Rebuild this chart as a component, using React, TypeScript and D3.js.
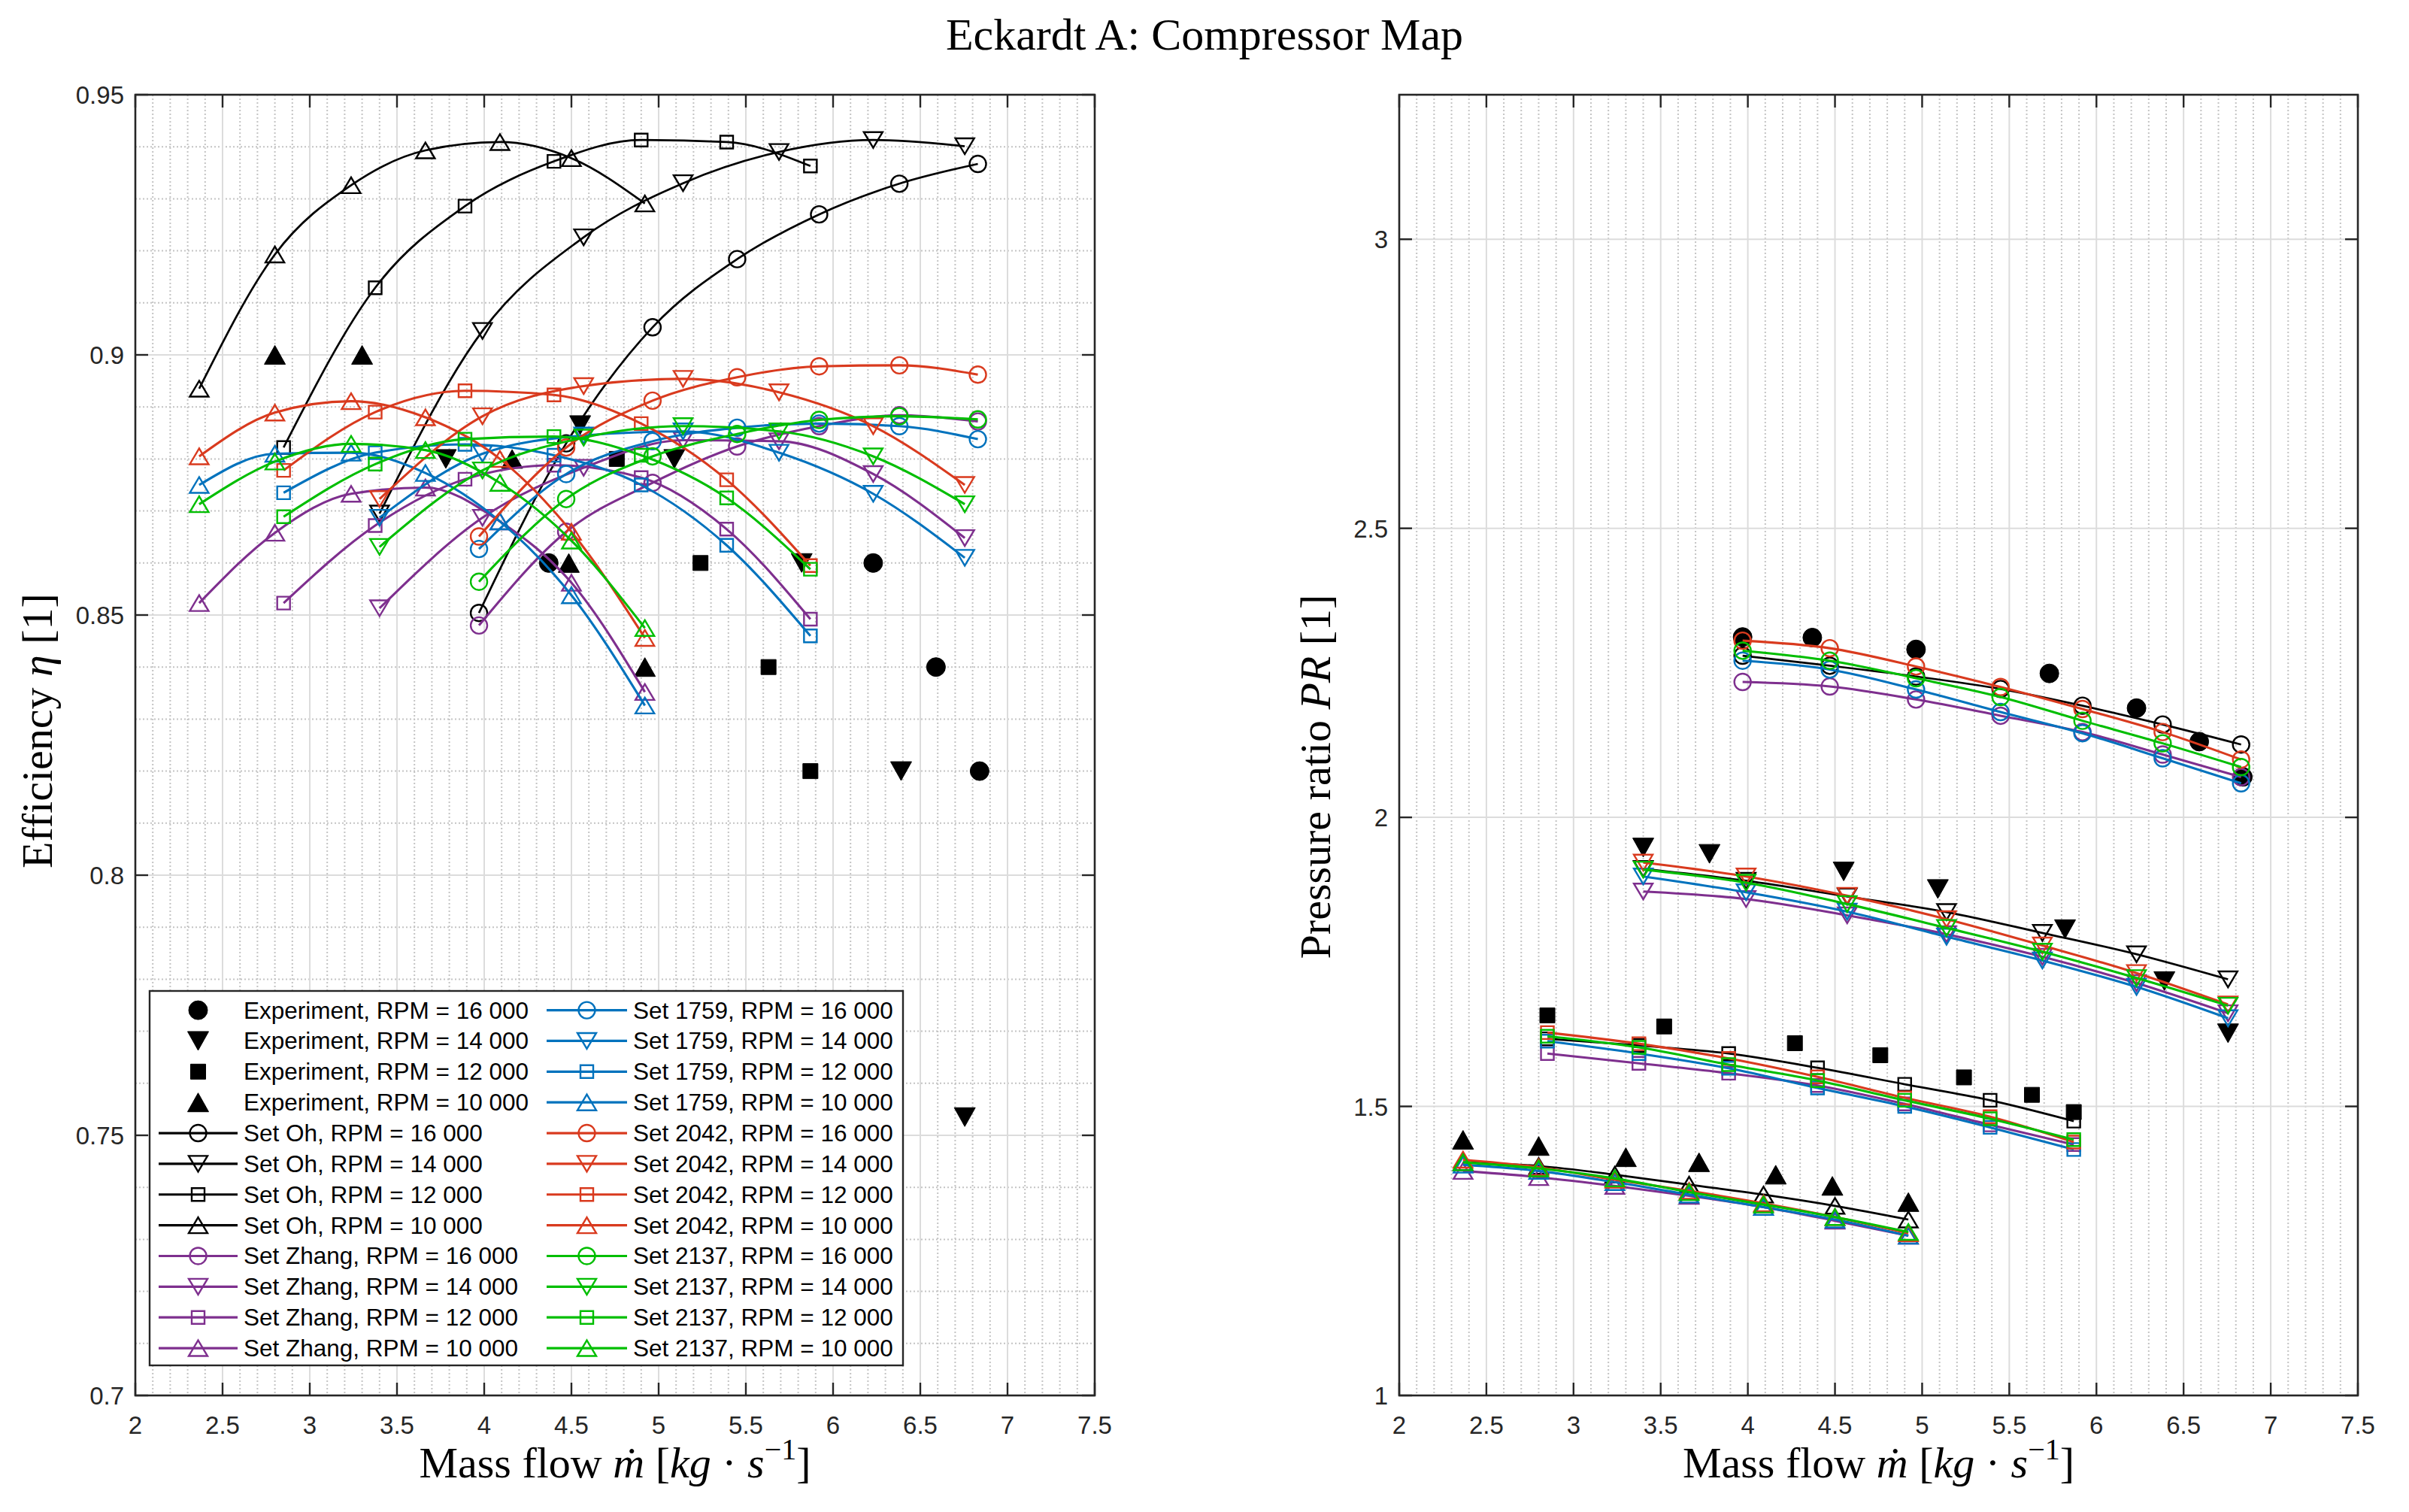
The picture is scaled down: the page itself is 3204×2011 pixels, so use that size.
import { useRef, useEffect } from "react";
import * as d3 from "d3";

const FIG_W = 3204;
const FIG_H = 2011;

// Mass flow of each operating point per speed line
const mdot16 = [3.97, 4.47, 4.965, 5.45, 5.92, 6.38, 6.83];
const mdot14 = [3.4, 3.99, 4.57, 5.14, 5.69, 6.23, 6.755];
const mdot12 = [2.85, 3.375, 3.89, 4.4, 4.9, 5.39, 5.87];
const mdot10 = [2.366, 2.8, 3.237, 3.663, 4.09, 4.5, 4.921];

// Experiment
const expMdot16 = [3.97, 4.37, 4.965, 5.73, 6.23, 6.59, 6.84];
const expMdot14 = [3.4, 3.78, 4.55, 5.09, 5.82, 6.39, 6.755];
const expMdot12 = [2.85, 3.52, 4.27, 4.76, 5.24, 5.63, 5.87];
const expMdot10 = [2.366, 2.8, 3.3, 3.72, 4.16, 4.485, 4.921];
const expEff16 = [null, 0.86, null, null, 0.86, 0.84, 0.82];
const expEff14 = [null, 0.88, 0.8865, 0.88, 0.86, 0.82, 0.7535];
const expEff12 = [null, null, null, 0.88, 0.86, 0.84, 0.82];
const expEff10 = [null, 0.9, 0.9, null, 0.88, 0.86, 0.84];
const expPr16 = [2.312, 2.311, 2.2905, 2.249, 2.189, 2.131, 2.07];
const expPr14 = [1.9478, 1.9369, 1.9065, 1.8761, 1.8066, 1.7168, 1.6265];
const expPr12 = [1.6574, 1.6383, 1.6094, 1.5885, 1.5502, 1.52, 1.4902];
const expPr10 = [1.4422, 1.4315, 1.4121, 1.4034, 1.3819, 1.3625, 1.3345];

// Efficiency
const effOh16 = [0.8504, 0.883, 0.9053, 0.9184, 0.927, 0.9329, 0.9367];
const effOh14 = [0.8695, 0.9046, 0.9226, 0.933, 0.939, 0.9413, 0.9401];
const effOh12 = [0.8822, 0.9129, 0.9286, 0.9372, 0.9413, 0.9409, 0.9363];
const effOh10 = [0.8935, 0.9193, 0.9326, 0.9393, 0.9409, 0.9378, 0.9291];
const effZh16 = [0.848, 0.866, 0.8754, 0.8824, 0.8863, 0.8884, 0.8872];
const effZh14 = [0.8513, 0.8687, 0.8783, 0.8836, 0.8834, 0.8771, 0.8648];
const effZh12 = [0.8523, 0.8672, 0.8761, 0.8788, 0.8764, 0.8665, 0.8492];
const effZh10 = [0.8523, 0.8658, 0.8733, 0.8745, 0.868, 0.8562, 0.8352];
const eff1759_16 = [0.8627, 0.8771, 0.8834, 0.886, 0.8868, 0.8863, 0.8838];
const eff1759_14 = [0.8687, 0.881, 0.8845, 0.8853, 0.8812, 0.8733, 0.861];
const eff1759_12 = [0.8735, 0.8812, 0.8828, 0.8807, 0.875, 0.8634, 0.846];
const eff1759_10 = [0.875, 0.881, 0.8812, 0.8773, 0.868, 0.8538, 0.8326];
const eff2042_16 = [0.8651, 0.8822, 0.8912, 0.8957, 0.8978, 0.898, 0.8962];
const eff2042_14 = [0.8723, 0.8882, 0.894, 0.8954, 0.8928, 0.8863, 0.875];
const eff2042_12 = [0.8778, 0.889, 0.8931, 0.8923, 0.8868, 0.876, 0.8595];
const eff2042_10 = [0.8805, 0.8889, 0.8911, 0.888, 0.88, 0.866, 0.8456];
const eff2137_16 = [0.8564, 0.8723, 0.8805, 0.8848, 0.8875, 0.8882, 0.8876];
const eff2137_14 = [0.8631, 0.8778, 0.8841, 0.8863, 0.8853, 0.8805, 0.8713];
const eff2137_12 = [0.8689, 0.879, 0.8838, 0.8843, 0.8807, 0.8725, 0.8588];
const eff2137_10 = [0.8713, 0.8795, 0.8829, 0.8817, 0.8754, 0.8643, 0.8475];

// Pressure ratio
const prOh16 = [2.2797, 2.2623, 2.2437, 2.2221, 2.1931, 2.1606, 2.126];
const prOh14 = [1.9109, 1.8904, 1.8631, 1.8362, 1.8001, 1.7632, 1.7198];
const prOh12 = [1.617, 1.6055, 1.5915, 1.5668, 1.5383, 1.5106, 1.4745];
const prOh10 = [1.4034, 1.397, 1.3819, 1.3647, 1.3474, 1.328, 1.3043];
const prZh16 = [2.2342, 2.2264, 2.2039, 2.1758, 2.1476, 2.1087, 2.0697];
const prZh14 = [1.8718, 1.8587, 1.8305, 1.798, 1.7589, 1.7133, 1.6612];
const prZh12 = [1.5915, 1.5745, 1.5574, 1.5362, 1.5043, 1.4681, 1.434];
const prZh10 = [1.3884, 1.3776, 1.3625, 1.3453, 1.3259, 1.3022, 1.2763];
const pr1759_16 = [2.271, 2.2558, 2.2212, 2.1822, 2.1455, 2.1022, 2.0589];
const pr1759_14 = [1.8978, 1.8705, 1.837, 1.7936, 1.7524, 1.7068, 1.6525];
const pr1759_12 = [1.6128, 1.5915, 1.566, 1.5319, 1.5, 1.4638, 1.4255];
const pr1759_10 = [1.3991, 1.3884, 1.369, 1.3474, 1.3259, 1.3043, 1.2763];
const pr2042_16 = [2.3056, 2.2926, 2.261, 2.2255, 2.1874, 2.1476, 2.1];
const pr2042_14 = [1.9217, 1.8978, 1.8644, 1.824, 1.7784, 1.7307, 1.6764];
const pr2042_12 = [1.6277, 1.6085, 1.583, 1.5511, 1.5149, 1.4821, 1.4383];
const pr2042_10 = [1.4078, 1.3948, 1.3733, 1.3539, 1.3323, 1.3086, 1.2806];
const pr2137_16 = [2.2883, 2.271, 2.2407, 2.2082, 2.1671, 2.1281, 2.087];
const pr2137_14 = [1.9096, 1.887, 1.8501, 1.8088, 1.7676, 1.722, 1.6742];
const pr2137_12 = [1.6213, 1.6021, 1.5723, 1.5447, 1.5106, 1.4787, 1.4426];
const pr2137_10 = [1.4034, 1.3927, 1.3754, 1.3517, 1.3302, 1.3086, 1.2828];

// Labels and ticks
const rpmLabels = ["16 000", "14 000", "12 000", "10 000"];
const setNames = ["Oh", "Zhang", "1759", "2042", "2137"];
const setColors = ["#000000", "#7E2F8E", "#0072BD", "#D93A1E", "#00BE00"];
const markerShapes = ["circle", "triangleDown", "square", "triangleUp"];
const xTicks = [2, 2.5, 3, 3.5, 4, 4.5, 5, 5.5, 6, 6.5, 7, 7.5];
const effTicks = [0.7, 0.75, 0.8, 0.85, 0.9, 0.95];
const prTicks = [1, 1.5, 2, 2.5, 3];

// Tables built from the arrays above
const mdotByRpm = [mdot16, mdot14, mdot12, mdot10];
const expMdotByRpm = [expMdot16, expMdot14, expMdot12, expMdot10];
const expEffByRpm = [expEff16, expEff14, expEff12, expEff10];
const expPrByRpm = [expPr16, expPr14, expPr12, expPr10];
const effBySet = [
	[effOh16, effOh14, effOh12, effOh10],
	[effZh16, effZh14, effZh12, effZh10],
	[eff1759_16, eff1759_14, eff1759_12, eff1759_10],
	[eff2042_16, eff2042_14, eff2042_12, eff2042_10],
	[eff2137_16, eff2137_14, eff2137_12, eff2137_10],
];
const prBySet = [
	[prOh16, prOh14, prOh12, prOh10],
	[prZh16, prZh14, prZh12, prZh10],
	[pr1759_16, pr1759_14, pr1759_12, pr1759_10],
	[pr2042_16, pr2042_14, pr2042_12, pr2042_10],
	[pr2137_16, pr2137_14, pr2137_12, pr2137_10],
];

const SANS = "'Liberation Sans', Arial, Helvetica, sans-serif";
const SERIF = "'Liberation Serif', 'DejaVu Serif', 'Times New Roman', serif";
const AXIS_COLOR = "#262626";

function markerPath(shape, filled) {
	if (shape === "circle") {
		const r = filled ? 12.5 : 11;
		return `M${-r},0a${r},${r} 0 1,0 ${2 * r},0a${r},${r} 0 1,0 ${-2 * r},0Z`;
	}
	if (shape === "square") {
		const s = filled ? 10 : 8.5;
		return `M${-s},${-s}H${s}V${s}H${-s}Z`;
	}
	const w = filled ? 14 : 12.5;
	const h = filled ? 12.5 : 10.5;
	if (shape === "triangleUp") return `M0,${-h}L${w},${h}L${-w},${h}Z`;
	return `M0,${h}L${w},${-h}L${-w},${-h}Z`;
}

function addMarker(g, shape, filled, color, cx, cy) {
	g.append("path")
		.attr("d", markerPath(shape, filled))
		.attr("transform", `translate(${cx},${cy})`)
		.attr("fill", filled ? color : "none")
		.attr("stroke", color)
		.attr("stroke-width", filled ? 1 : 2.4);
}

function drawPanel(svg, opts) {
	const { left, right, top, bottom, yDomain, yTicks, yMinorStep, expY, setY } = opts;
	const x = d3.scaleLinear().domain([2, 7.5]).range([left, right]);
	const y = d3.scaleLinear().domain(yDomain).range([bottom, top]);
	const g = svg.append("g");

	// Minor grid
	const isMajor = (v, step) => Math.abs(v / step - Math.round(v / step)) < 1e-6;
	const xMinor = d3.range(21, 75).map((v) => v / 10).filter((v) => !isMajor(v, 0.5));
	const nY = Math.round((yDomain[1] - yDomain[0]) / yMinorStep);
	const yMinor = d3
		.range(1, nY + 1)
		.map((i) => +(yDomain[0] + i * yMinorStep).toFixed(4))
		.filter((v) => v < yDomain[1] && !isMajor(v, 0.05) && !yTicks.includes(v));
	const minor = g.append("g").attr("stroke", "#c4c4c4").attr("stroke-width", 2).attr("stroke-dasharray", "2,3");
	xMinor.forEach((v) => {
		minor.append("line").attr("x1", x(v)).attr("x2", x(v)).attr("y1", top).attr("y2", bottom);
	});
	yMinor.forEach((v) => {
		minor.append("line").attr("x1", left).attr("x2", right).attr("y1", y(v)).attr("y2", y(v));
	});

	// Major grid
	const major = g.append("g").attr("stroke", "#dcdcdc").attr("stroke-width", 2);
	xTicks.forEach((v) => {
		major.append("line").attr("x1", x(v)).attr("x2", x(v)).attr("y1", top).attr("y2", bottom);
	});
	yTicks.forEach((v) => {
		major.append("line").attr("x1", left).attr("x2", right).attr("y1", y(v)).attr("y2", y(v));
	});

	// Experiment markers
	expMdotByRpm.forEach((xs, r) => {
		xs.forEach((xv, i) => {
			const yv = expY[r][i];
			if (yv === null) return;
			addMarker(g, markerShapes[r], true, "#000000", x(xv), y(yv));
		});
	});

	// Simulation sets
	const line = d3
		.line()
		.x((d) => x(d[0]))
		.y((d) => y(d[1]))
		.curve(d3.curveMonotoneX);
	setY.forEach((bySpeed, s) => {
		bySpeed.forEach((ys, r) => {
			const pts = mdotByRpm[r].map((xv, i) => [xv, ys[i]]);
			g.append("path")
				.attr("d", line(pts))
				.attr("fill", "none")
				.attr("stroke", setColors[s])
				.attr("stroke-width", s === 0 ? 2.7 : 3.1);
			pts.forEach((p) => addMarker(g, markerShapes[r], false, setColors[s], x(p[0]), y(p[1])));
		});
	});

	// Box and ticks
	const axis = g.append("g").attr("stroke", AXIS_COLOR).attr("stroke-width", 2.4);
	xTicks.forEach((v) => {
		axis.append("line").attr("x1", x(v)).attr("x2", x(v)).attr("y1", bottom).attr("y2", bottom - 17);
		axis.append("line").attr("x1", x(v)).attr("x2", x(v)).attr("y1", top).attr("y2", top + 17);
	});
	yTicks.forEach((v) => {
		axis.append("line").attr("x1", left).attr("x2", left + 17).attr("y1", y(v)).attr("y2", y(v));
		axis.append("line").attr("x1", right).attr("x2", right - 17).attr("y1", y(v)).attr("y2", y(v));
	});
	g.append("rect")
		.attr("x", left)
		.attr("y", top)
		.attr("width", right - left)
		.attr("height", bottom - top)
		.attr("fill", "none")
		.attr("stroke", AXIS_COLOR)
		.attr("stroke-width", 2.6);

	// Tick labels
	const labels = g.append("g").attr("font-family", SANS).attr("font-size", 33).attr("fill", AXIS_COLOR);
	xTicks.forEach((v) => {
		labels.append("text").attr("x", x(v)).attr("y", bottom + 51).attr("text-anchor", "middle").text(String(v));
	});
	yTicks.forEach((v) => {
		labels
			.append("text")
			.attr("x", left - 15)
			.attr("y", y(v) + 12)
			.attr("text-anchor", "end")
			.text(String(v));
	});

	// X-axis label
	const xl = g
		.append("text")
		.attr("x", (left + right) / 2)
		.attr("y", bottom + 109)
		.attr("text-anchor", "middle")
		.attr("font-family", SERIF)
		.attr("font-size", 58)
		.attr("fill", "#000");
	xl.append("tspan").text("Mass flow ");
	xl.append("tspan").attr("font-style", "italic").text("ṁ");
	xl.append("tspan").text(" [");
	xl.append("tspan").attr("font-style", "italic").text("kg");
	xl.append("tspan").text(" · ");
	xl.append("tspan").attr("font-style", "italic").text("s");
	xl.append("tspan").attr("font-size", 40).attr("dy", -24).text("−1");
	xl.append("tspan").attr("dy", 24).text("]");

	return g;
}

function drawLegend(svg) {
	const box = { x: 199, y: 1318, w: 1002, h: 498 };
	const rowY0 = 1343.6;
	const rowStep = 40.86;
	const cols = [
		{ lx1: 211, lx2: 316, mx: 263.5, tx: 324 },
		{ lx1: 727, lx2: 834, mx: 780.5, tx: 842 },
	];
	const g = svg.append("g");
	g.append("rect")
		.attr("x", box.x)
		.attr("y", box.y)
		.attr("width", box.w)
		.attr("height", box.h)
		.attr("fill", "#fff")
		.attr("stroke", AXIS_COLOR)
		.attr("stroke-width", 2.4);

	const entries = [];
	rpmLabels.forEach((lab, r) => entries.push({ text: `Experiment, RPM = ${lab}`, color: "#000000", shape: markerShapes[r], exp: true }));
	setNames.forEach((name, s) => {
		rpmLabels.forEach((lab, r) =>
			entries.push({ text: `Set ${name}, RPM = ${lab}`, color: setColors[s], shape: markerShapes[r], exp: false })
		);
	});

	entries.forEach((e, i) => {
		const col = cols[Math.floor(i / 12)];
		const cy = rowY0 + (i % 12) * rowStep;
		if (!e.exp) {
			g.append("line")
				.attr("x1", col.lx1)
				.attr("x2", col.lx2)
				.attr("y1", cy)
				.attr("y2", cy)
				.attr("stroke", e.color)
				.attr("stroke-width", 3.2);
		}
		addMarker(g, e.shape, e.exp, e.color, col.mx, cy);
		g.append("text")
			.attr("x", col.tx)
			.attr("y", cy + 11)
			.attr("font-family", SANS)
			.attr("font-size", 31.5)
			.attr("fill", "#000")
			.text(e.text);
	});
}

export default function App() {
	const svgRef = useRef(null);

	useEffect(() => {
		document.body.style.margin = "0";
		const svg = d3.select(svgRef.current).attr("width", FIG_W).attr("height", FIG_H);
		svg.selectAll("*").remove();

		svg.append("rect").attr("width", FIG_W).attr("height", FIG_H).attr("fill", "#fff");

		// Title
		svg.append("text")
			.attr("x", FIG_W / 2)
			.attr("y", 66)
			.attr("text-anchor", "middle")
			.attr("font-family", SERIF)
			.attr("font-size", 60)
			.attr("fill", "#000")
			.text("Eckardt A: Compressor Map");

		// Left: efficiency
		drawPanel(svg, {
			left: 180,
			right: 1456,
			top: 126,
			bottom: 1856,
			yDomain: [0.7, 0.95],
			yTicks: effTicks,
			yMinorStep: 0.01,
			expY: expEffByRpm,
			setY: effBySet,
		});
		const yl = svg
			.append("text")
			.attr("transform", "translate(69,972) rotate(-90)")
			.attr("text-anchor", "middle")
			.attr("font-family", SERIF)
			.attr("font-size", 58)
			.attr("fill", "#000");
		yl.append("tspan").text("Efficiency ");
		yl.append("tspan").attr("font-style", "italic").text("η");
		yl.append("tspan").text(" [1]");

		// Right: pressure ratio
		drawPanel(svg, {
			left: 1861,
			right: 3136,
			top: 126,
			bottom: 1856,
			yDomain: [1, 3.25],
			yTicks: prTicks,
			yMinorStep: 0.1,
			expY: expPrByRpm,
			setY: prBySet,
		});
		const yr = svg
			.append("text")
			.attr("transform", "translate(1769,1033) rotate(-90)")
			.attr("text-anchor", "middle")
			.attr("font-family", SERIF)
			.attr("font-size", 58)
			.attr("fill", "#000");
		yr.append("tspan").text("Pressure ratio ");
		yr.append("tspan").attr("font-style", "italic").text("PR");
		yr.append("tspan").text(" [1]");

		drawLegend(svg);

		return () => {
			d3.select(svgRef.current).selectAll("*").remove();
		};
	}, []);

	return <svg ref={svgRef} style={{ display: "block" }}></svg>;
}
